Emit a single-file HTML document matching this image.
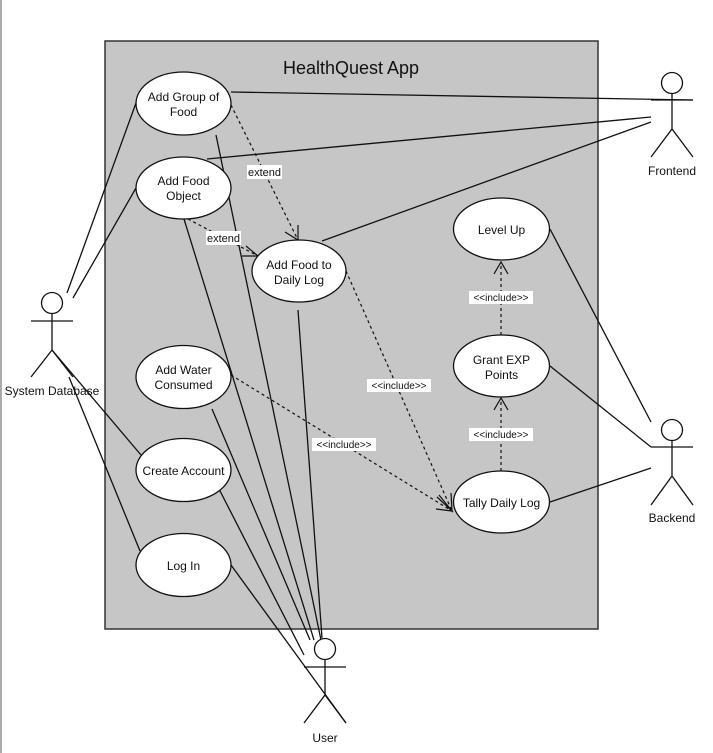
<!DOCTYPE html>
<html><head><meta charset="utf-8"><style>
html,body{margin:0;padding:0;background:#fff;}
svg{display:block;font-family:"Liberation Sans",Arial,sans-serif;}
</style></head><body>
<svg width="713" height="753" viewBox="0 0 713 753" xmlns="http://www.w3.org/2000/svg">
<line x1="1" y1="0" x2="1" y2="753" stroke="#aaa" stroke-width="2"/>
<rect x="105" y="41" width="493" height="588" fill="#c6c6c6" stroke="#333" stroke-width="1.5"/>
<text x="351" y="74" font-size="18" text-anchor="middle" fill="#111">HealthQuest App</text>
<g stroke="#111" stroke-width="1.3" fill="none">
<!-- frontend -->
<line x1="231" y1="92" x2="693" y2="100"/>
<line x1="207" y1="159" x2="651" y2="117"/>
<line x1="322" y1="241" x2="651" y2="122"/>
<!-- sysdb -->
<line x1="136" y1="103" x2="67" y2="293"/>
<line x1="136" y1="188" x2="73" y2="298"/>
<line x1="52" y1="350" x2="141" y2="455"/>
<line x1="69" y1="377" x2="140" y2="551"/>
<!-- user -->
<line x1="216" y1="135" x2="321" y2="640"/>
<line x1="184" y1="219" x2="314" y2="640"/>
<line x1="298" y1="310" x2="322" y2="638"/>
<line x1="212" y1="409" x2="310" y2="640"/>
<line x1="218" y1="487" x2="304" y2="655"/>
<line x1="231" y1="565" x2="346" y2="723"/>
<!-- backend -->
<line x1="550" y1="229" x2="651" y2="422"/>
<line x1="550" y1="366" x2="651" y2="447"/>
<line x1="550" y1="502" x2="651" y2="468"/>
</g>
<g stroke="#111" stroke-width="1.2" fill="none" stroke-dasharray="3,3">
<line x1="231" y1="105" x2="298" y2="240"/>
<line x1="188" y1="219" x2="258" y2="256"/>
<line x1="346" y1="271" x2="452" y2="511"/>
<line x1="231" y1="375" x2="452" y2="511"/>
<line x1="501" y1="471" x2="501" y2="398"/>
<line x1="501" y1="335" x2="501" y2="262"/>
</g>
<g stroke="#111" stroke-width="1.2" fill="none">
<polyline points="285,232 298,240 298,225"/>
<polyline points="246,246 258,256 242,256"/>
<polyline points="439,495 452,511 451,493"/>
<polyline points="436,509 452,511 437,497"/>
<polyline points="494,410 501,398 508,410"/>
<polyline points="494,274 501,262 508,274"/>
</g>
<g fill="#fff" stroke="#111" stroke-width="1.3">
<ellipse cx="183.5" cy="103.5" rx="47.5" ry="31.5"/>
<ellipse cx="183.5" cy="188" rx="47.5" ry="31"/>
<ellipse cx="299" cy="271" rx="47" ry="31"/>
<ellipse cx="501.5" cy="229" rx="48" ry="31"/>
<ellipse cx="501.5" cy="366" rx="48" ry="31"/>
<ellipse cx="501.5" cy="502" rx="48" ry="31"/>
<ellipse cx="183.5" cy="377" rx="47.5" ry="31.5"/>
<ellipse cx="183.5" cy="470" rx="47.5" ry="31.5"/>
<ellipse cx="183.5" cy="565" rx="47.5" ry="31.5"/>
</g>
<g font-size="12" text-anchor="middle" fill="#111">
<text x="183.5" y="101">Add Group of</text><text x="183.5" y="116">Food</text>
<text x="183.5" y="185">Add Food</text><text x="183.5" y="200">Object</text>
<text x="299" y="269">Add Food to</text><text x="299" y="284">Daily Log</text>
<text x="501.5" y="234">Level Up</text>
<text x="501.5" y="364">Grant EXP</text><text x="501.5" y="379">Points</text>
<text x="501.5" y="507">Tally Daily Log</text>
<text x="183.5" y="374">Add Water</text><text x="183.5" y="389">Consumed</text>
<text x="183.5" y="475">Create Account</text>
<text x="183.5" y="570">Log In</text>
</g>
<g font-size="11" text-anchor="middle" fill="#111">
<rect x="247" y="165" width="35" height="14" fill="#fff"/><text x="264.5" y="176">extend</text>
<rect x="206" y="231" width="35" height="14" fill="#fff"/><text x="223.5" y="242">extend</text>
<rect x="367" y="379" width="64" height="13" fill="#fff"/><text x="399" y="389" font-size="10">&lt;&lt;include&gt;&gt;</text>
<rect x="312" y="438" width="64" height="13" fill="#fff"/><text x="344" y="448" font-size="10">&lt;&lt;include&gt;&gt;</text>
<rect x="469" y="291" width="64" height="13" fill="#fff"/><text x="501" y="301" font-size="10">&lt;&lt;include&gt;&gt;</text>
<rect x="469" y="428" width="64" height="13" fill="#fff"/><text x="501" y="438" font-size="10">&lt;&lt;include&gt;&gt;</text>
</g>
<g stroke="#111" stroke-width="1.3" fill="#fff">
<circle cx="672" cy="83" r="10.5"/>
<path d="M672 93.5V129M651 100H693M651 157L672 129L693 157" fill="none"/>
<circle cx="672" cy="430" r="10.5"/>
<path d="M672 440.5V476M651 447H693M651 505L672 476L693 505" fill="none"/>
<circle cx="52" cy="303" r="10.5"/>
<path d="M52 313.5V350M31 321H73M31 377L52 350L73 377" fill="none"/>
<circle cx="325" cy="649" r="10.5"/>
<path d="M325 659.5V695M304 667H346M304 723L325 695L346 723" fill="none"/>
</g>
<g font-size="12" text-anchor="middle" fill="#111">
<text x="672" y="175">Frontend</text>
<text x="672" y="522">Backend</text>
<text x="52" y="395">System Database</text>
<text x="325" y="742">User</text>
</g>
</svg>
</body></html>
